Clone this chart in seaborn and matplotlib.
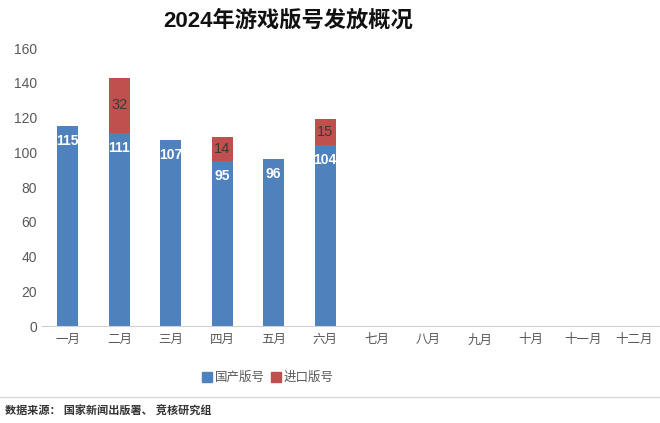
import numpy as np
import pandas as pd
import matplotlib.pyplot as plt
import seaborn as sns
from matplotlib.lines import Line2D

# data
months = ['一月', '二月', '三月', '四月', '五月', '六月',
          '七月', '八月', '九月', '十月', '十一月', '十二月']
domestic = [115, 111, 107, 95, 96, 104, np.nan, np.nan, np.nan, np.nan, np.nan, np.nan]
imported = [0, 32, 0, 14, 0, 15, np.nan, np.nan, np.nan, np.nan, np.nan, np.nan]

blue = '#4F81BD'
red = '#C0504D'
grey = '#595959'

df = pd.DataFrame({'month': months, 'domestic': domestic, 'imported': imported})
df['total'] = df['domestic'] + df['imported']

sns.set_style('white')
plt.rcParams['font.family'] = ['Liberation Sans', 'Noto Sans CJK SC']

fig = plt.figure(figsize=(6.6, 4.23), dpi=100)
ax = fig.add_axes([42 / 660, 1 - 326 / 423, 618 / 660, (326 - 48) / 423])

# stacked: total in red underneath, domestic in blue on top
sns.barplot(data=df, x='month', y='total', order=months, color=red,
            width=0.4, saturation=1, linewidth=0, ax=ax)
sns.barplot(data=df, x='month', y='domestic', order=months, color=blue,
            width=0.4, saturation=1, linewidth=0, ax=ax)

# value labels
for i, (d, m) in enumerate(zip(domestic, imported)):
    if np.isnan(d):
        continue
    ax.text(i, d - 8.5, f'{int(d)}', ha='center', va='center', color='white',
            fontsize=10, fontweight='bold')
    if m and m > 0:
        ax.text(i, d + m / 2, f'{int(m)}', ha='center', va='center',
                color='#3a3a3a', fontsize=10.5)

ax.set_xlim(-0.5, 11.5)
ax.set_ylim(0, 160)
ax.set_yticks(range(0, 161, 20))
ax.set_xlabel('')
ax.set_ylabel('')
ax.tick_params(axis='both', length=0, colors=grey)
ax.tick_params(axis='y', labelsize=10)
ax.tick_params(axis='x', labelsize=9, pad=6)
for s in ['top', 'right', 'left']:
    ax.spines[s].set_visible(False)
ax.spines['bottom'].set_color('#d0d0d0')

fig.text(288 / 660, 1 - 21 / 423, '2024年游戏版号发放概况', ha='center', va='center',
         fontsize=16, fontweight='bold', color='#111111')

handles = [Line2D([], [], marker='s', linestyle='', color=blue, markersize=7),
           Line2D([], [], marker='s', linestyle='', color=red, markersize=7)]
leg = fig.legend(handles, ['国产版号', '进口版号'], loc='center',
                 bbox_to_anchor=(267 / 660, 1 - 378 / 423), ncol=2, frameon=False,
                 fontsize=9, handletextpad=0.1, columnspacing=0.4, handlelength=1)
for t in leg.get_texts():
    t.set_color(grey)

fig.add_artist(Line2D([0, 1], [1 - 397 / 423, 1 - 397 / 423],
                      transform=fig.transFigure, color='#d9d9d9', linewidth=1))
fig.text(5 / 660, 1 - 411 / 423, '数据来源： 国家新闻出版署、 竞核研究组', ha='left',
         va='center', fontsize=8, fontweight='bold', color='#333333')

fig.savefig('out.png', dpi=100)
